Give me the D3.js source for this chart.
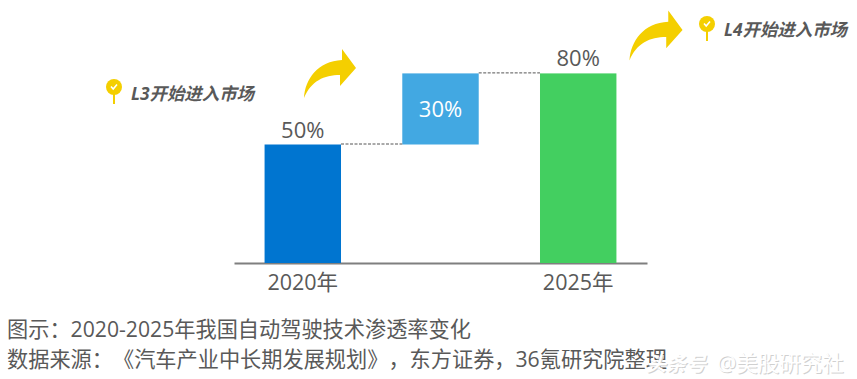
<!DOCTYPE html>
<html>
<head>
<meta charset="utf-8">
<script src="https://cdn.jsdelivr.net/npm/d3@7"></script>
<style>
    html, body { margin: 0; padding: 0; background: #fff; }
    text { font-family: "Open Sans", "Noto Sans CJK SC", sans-serif; fill: #595959; text-spacing-trim: space-all; white-space: pre; }
    .domain { stroke: #7f7f7f; stroke-width: 2; }
</style>
</head>
<body>
<div id="chart"></div>
<script>
const categories = ['2020', 'delta', '2025'];
const tickLabels = ['2020年', '', '2025年'];
const bottoms = [0, 50, 0];
const tops = [50, 80, 80];
const labels = ['50%', '30%', '80%'];
const colors = ['#0075d0', '#42a8e2', '#43cf60'];
const captions = ['图示：2020-2025年我国自动驾驶技术渗透率变化', '数据来源：《汽车产业中长期发展规划》，东方证券，36氪研究院整理'];
const notes = ['L3开始进入市场', 'L4开始进入市场'];

const width = 857, height = 379;

const svg = d3.select('#chart').append('svg')
    .attr('width', width)
    .attr('height', height)
    .style('display', 'block');

const x = d3.scaleBand()
    .domain(categories)
    .range([234, 647])
    .paddingInner(0.445)
    .paddingOuter(0.222);

const y = d3.scaleLinear()
    .domain([0, 80])
    .range([263, 73.4]);

// axis, only the baseline and the two year labels
const axis = svg.append('g')
    .attr('transform', 'translate(0,263)')
    .call(d3.axisBottom(x).tickSize(0).tickPadding(12).tickFormat((d, i) => tickLabels[i]));
axis.selectAll('text').style('font-size', '21.5px').style('font-family', null);

svg.selectAll('rect.bar')
    .data(categories)
    .join('rect')
    .attr('class', 'bar')
    .attr('x', d => x(d))
    .attr('width', x.bandwidth())
    .attr('y', (d, i) => y(tops[i]))
    .attr('height', (d, i) => y(bottoms[i]) - y(tops[i]))
    .attr('fill', (d, i) => colors[i]);

// dashed connectors between the bars
d3.range(categories.length - 1).forEach(i => {
    svg.append('line')
        .attr('x1', x(categories[i]) + x.bandwidth())
        .attr('x2', x(categories[i + 1]))
        .attr('y1', y(tops[i]) - 0.5)
        .attr('y2', y(tops[i]) - 0.5)
        .attr('stroke', '#555')
        .attr('stroke-width', 1)
        .attr('stroke-dasharray', '3 1.5');
});

svg.selectAll('text.val')
    .data(labels)
    .join('text')
    .attr('class', 'val')
    .attr('x', (d, i) => x(categories[i]) + x.bandwidth() / 2)
    .attr('y', (d, i) => i === 1 ? (y(tops[i]) + y(bottoms[i])) / 2 + 8 : y(tops[i]) - 7)
    .attr('text-anchor', 'middle')
    .style('font-size', '22px')
    .style('fill', (d, i) => i === 1 ? '#fff' : null)
    .text(d => d);

// yellow callouts
function arrow(tx, ty, k) {
    svg.append('path')
        .attr('transform', 'translate(' + tx + ',' + ty + ') scale(' + k + ')')
        .attr('fill', '#f4cf00')
        .attr('d', 'M0,49 C1,30 14,12 38,11 L38,0 L52,19 L36,37 L36,26 C20,26 7,32 0,49 Z');
}

function pin(tx, ty) {
    const g = svg.append('g').attr('transform', 'translate(' + tx + ',' + ty + ')');
    g.append('rect').attr('x', -1).attr('y', 4).attr('width', 2).attr('height', 13).attr('fill', '#f4cf00');
    g.append('circle').attr('r', 8).attr('fill', '#f4cf00');
    g.append('path')
        .attr('d', 'M-3,-0.5 L-0.8,2 L3,-2.5')
        .attr('fill', 'none')
        .attr('stroke', '#fff')
        .attr('stroke-width', 1.6);
}

arrow(304, 49, 1);
arrow(629.5, 10.5, 1.02);
pin(114, 87);
pin(707, 24);

[[131, 100], [724, 36]].forEach((p, i) => {
    svg.append('text')
        .attr('x', p[0])
        .attr('y', p[1])
        .style('font-size', '17.4px')
        .style('font-weight', 700)
        .style('font-style', 'italic')
        .text(notes[i]);
});

captions.forEach((c, i) => {
    svg.append('text')
        .attr('x', 7)
        .attr('y', 337 + i * 30)
        .style('font-size', '21.2px')
        .text(c);
});

// watermark, white text with a thin grey shadow
[['#d0d0d0', 1], ['#fff', 0]].forEach(s => {
    svg.append('text')
        .attr('x', 646 + s[1])
        .attr('y', 371 + s[1])
        .style('font-size', '20px')
        .style('font-style', 'italic')
        .style('font-weight', 700)
        .style('fill', s[0])
        .text('头条号');
    svg.append('text')
        .attr('x', 717 + s[1])
        .attr('y', 371 + s[1])
        .style('font-size', '21.5px')
        .style('fill', s[0])
        .text('@美股研究社');
});
</script>
</body>
</html>
